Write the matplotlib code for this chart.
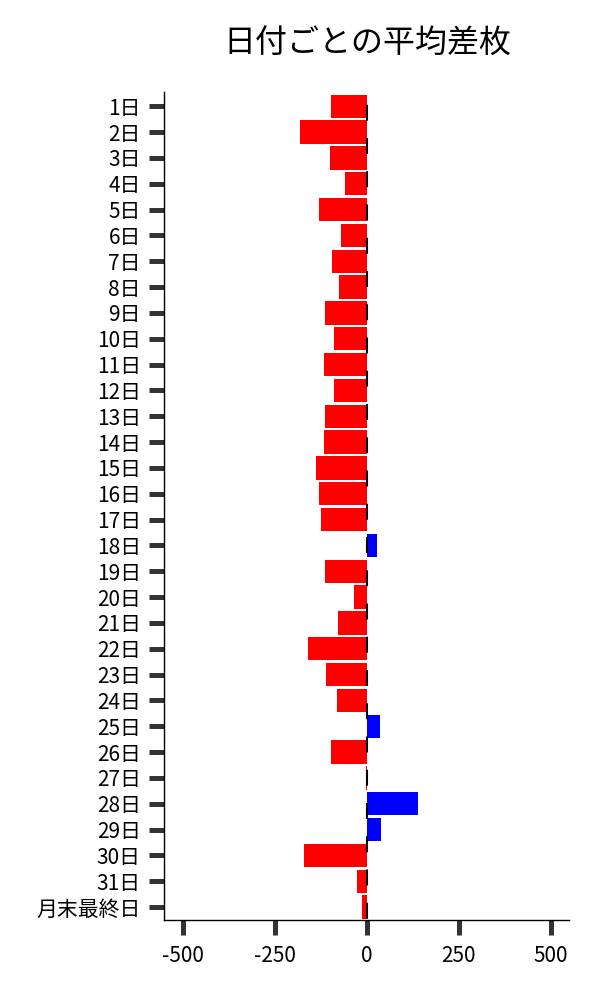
import matplotlib
matplotlib.use("Agg")
import matplotlib.pyplot as plt
import numpy as np

plt.rcParams['font.family'] = ['Noto Sans CJK JP', 'DejaVu Sans']

categories = [f"{d}日" for d in range(1, 32)] + ["月末最終日"]
values = [-98, -182, -100, -59, -130, -70, -95, -76, -114, -89, -116,
          -89, -114, -116, -138, -130, -124, 27, -114, -35, -78, -159,
          -111, -81, 35, -97, -2, 138, 38, -170, -27, -14]
xticks = [-500, -250, 0, 250, 500]

fig = plt.figure(figsize=(6, 10), dpi=100)
ax = fig.add_axes([0.274, 0.08, 0.675, 0.828])

colors = ['blue' if v > 0 else 'red' for v in values]
y = np.arange(len(categories))
ax.barh(y, values, height=0.9, color=colors, zorder=2)
ax.axvline(0, color='black', linewidth=1.5, zorder=3,
           linestyle=(15.36, (7.68, 8.28)))

ax.set_yticks(y)
ax.set_yticklabels(categories, fontsize=15)
ax.set_xticks(xticks)
ax.set_xticklabels([str(t) for t in xticks], fontsize=15)
ax.set_xlim(-550, 550)
ax.set_ylim(len(categories) - 0.5, -0.55)

for s in ['top', 'right']:
    ax.spines[s].set_visible(False)
for s in ['left', 'bottom']:
    ax.spines[s].set_linewidth(1.0)
ax.tick_params(axis='both', length=11, width=3.6, color='#333333')
ax.tick_params(axis='y', pad=6)
ax.tick_params(axis='x', pad=7)

ax.set_title("日付ごとの平均差枚", fontsize=23, pad=28)

fig.savefig("out.png", dpi=100)
